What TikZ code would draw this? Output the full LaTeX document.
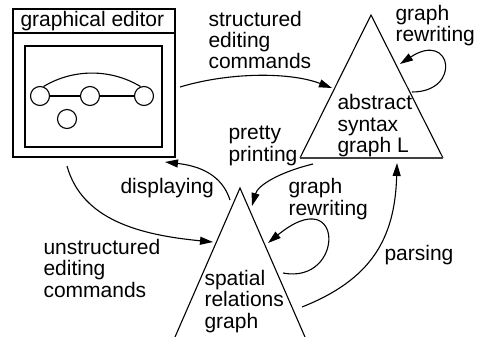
\documentclass[tikz,border=0pt]{standalone}
\usepackage{fontspec}
\setmainfont{Liberation Sans}
\usetikzlibrary{arrows.meta}
\begin{document}
\begin{tikzpicture}[x=1pt,y=-1pt,
  line width=1.1pt,
  lbl/.style={anchor=base west,inner sep=0pt,align=left,
    font=\fontsize{21}{21.5}\selectfont},
  dot/.style={draw,circle,inner sep=0pt,minimum size=19pt},
  flow/.style={-{Triangle[length=13pt,width=8pt]}}]
\useasboundingbox (0,0) rectangle (479,337);

% graphical editor window
\draw (13,9) rectangle (175,157);
\draw (13,33) -- (175,33);
\draw (25,46) rectangle (162,147);
\node[lbl] (edtitle) at (20,27) {graphical editor};
\node[dot] (c1) at (40,96) {};
\node[dot] (c2) at (90,96) {};
\node[dot] (c3) at (144,96) {};
\node[dot] (c4) at (67,119) {};
\draw (c1) -- (c2) -- (c3);
\draw (c1.70) .. controls +(30,-18) and +(-30,-18) .. (c3.110);

% abstract syntax graph (upper triangle)
\draw (300,158) -- (371,15) -- (443,158);
\draw[line width=2pt,black!75] (300,158) -- (443,158);
% multi-line labels are anchored at the baseline of their last line
\node[lbl] (asg) at (337,152.5) {abstract\\syntax\\graph L};

% spatial relations graph (lower triangle)
\draw (175,337) -- (240,188) -- (305,337);
\node[lbl] (srg) at (204,328) {spatial\\relations\\graph};

% connector end points
\coordinate (edR) at (180,87);
\coordinate (asgL) at (332,88);
\coordinate (loopAout) at (412,92);
\coordinate (loopAin) at (400,64);
\coordinate (asgB) at (313,164);
\coordinate (srgTop) at (252,206);
\coordinate (loopBout) at (283,273);
\coordinate (loopBin) at (268,243);
\coordinate (srgR) at (302,307);
\coordinate (asgBase) at (397,163);
\coordinate (srgApex) at (230,200);
\coordinate (edB) at (165,162);
\coordinate (edBL) at (67,166);
\coordinate (srgL) at (213,242);

% connectors
\draw[flow] (edR) .. controls (230,72) and (290,72) .. (asgL);
\draw[flow] (loopAout) .. controls (462,92) and (452,30) .. (loopAin);
\draw[flow] (asgB) .. controls (280,172) and (258,185) .. (srgTop);
\draw[flow] (loopBout) .. controls (345,285) and (345,180) .. (loopBin);
\draw[flow] (srgR) .. controls (370,280) and (395,240) .. (asgBase);
\draw[flow] (srgApex) .. controls (222,175) and (200,166) .. (edB);
\draw[flow] (edBL) .. controls (82,220) and (140,235) .. (srgL);

% labels
\node[lbl] (lstruct) at (208,69) {structured\\editing\\commands};
\node[lbl] (lrewA) at (395,42) {graph\\rewriting};
\node[lbl] (lpretty) at (228,161) {pretty\\printing};
\node[lbl] (ldisp) at (120,193) {displaying};
\node[lbl] (lrewB) at (288,215) {graph\\rewriting};
\node[lbl] (lunstr) at (43,297) {unstructured\\editing\\commands};
\node[lbl] (lpars) at (384,260) {parsing};
\end{tikzpicture}
\end{document}
